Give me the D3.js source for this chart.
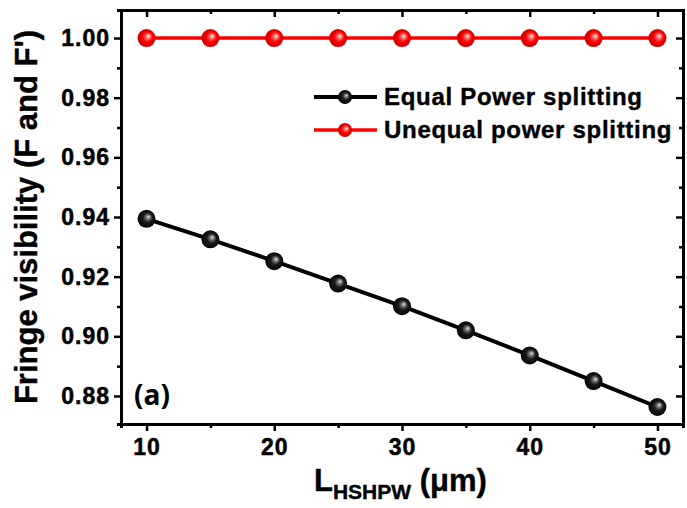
<!DOCTYPE html>
<html>
<head>
<meta charset="utf-8">
<script src="https://cdn.jsdelivr.net/npm/d3@7"></script>
<style>
    body { margin: 0; background: #fff; }
    text { font-family: "Liberation Sans", Arial, sans-serif; font-weight: bold; fill: #000; }
</style>
</head>
<body>
<div id="chart"></div>
<script>
const lengths = [10, 15, 20, 25, 30, 35, 40, 45, 50]
const equalSplit = [0.9394, 0.9325, 0.9252, 0.9177, 0.9101, 0.9020, 0.8936, 0.8850, 0.8763]
const unequalSplit = [1.00, 1.00, 1.00, 1.00, 1.00, 1.00, 1.00, 1.00, 1.00]
const xTicks = [10, 20, 30, 40, 50]
const yTicks = [0.88, 0.90, 0.92, 0.94, 0.96, 0.98, 1.00]
const seriesNames = ['Equal Power splitting', 'Unequal power splitting']

const width = 687
const height = 508
const plotLeft = 121
const plotRight = 683
const plotTop = 10
const plotBottom = 424

const x = d3.scaleLinear().domain([8, 52]).range([plotLeft, plotRight])
const y = d3.scaleLinear().domain([0.8706, 1.0094]).range([plotBottom, plotTop])

const svg = d3.select('#chart')
    .append('svg')
    .attr('width', width)
    .attr('height', height)

// sphere-looking markers
const defs = svg.append('defs')
const makeGrad = (id, stops) => {
    const g = defs.append('radialGradient')
        .attr('id', id)
        .attr('cx', 0.5).attr('cy', 0.5).attr('r', 0.55)
        .attr('fx', 0.62).attr('fy', 0.38)
    stops.forEach((s) => g.append('stop').attr('offset', s[0]).attr('stop-color', s[1]))
}
makeGrad('ball-black', [[0, '#f4f4f4'], [0.16, '#8a8a8a'], [0.48, '#1a1a1a'], [1, '#000']])
makeGrad('ball-red', [[0, '#ffffff'], [0.2, '#ff7a7a'], [0.52, '#ff0000'], [1, '#b80000']])

const series = [
    { name: seriesNames[0], values: equalSplit, color: '#000', grad: 'url(#ball-black)', width: 4 },
    { name: seriesNames[1], values: unequalSplit, color: '#ff0000', grad: 'url(#ball-red)', width: 3.5 }
]

// axes
const fmt = d3.format('.2f')
const minorX = [15, 25, 35, 45]
const minorY = [0.89, 0.91, 0.93, 0.95, 0.97, 0.99]
const styleAxis = (g) => {
    g.select('.domain').attr('stroke-width', 3).attr('stroke', '#000')
    g.selectAll('.tick line').attr('stroke-width', 2.5).attr('stroke', '#000')
    g.selectAll('text')
        .style('font-size', '23px')
        .style('letter-spacing', '1px')
        .attr('stroke', '#000')
        .attr('stroke-width', 0.5)
}
svg.append('g')
    .attr('transform', `translate(0, ${plotBottom})`)
    .call(d3.axisBottom(x).tickValues(minorX).tickSize(4).tickFormat(''))
    .call(styleAxis)
svg.append('g')
    .attr('transform', `translate(0, ${plotBottom})`)
    .call(d3.axisBottom(x).tickValues(xTicks).tickSize(7).tickPadding(8).tickSizeOuter(0))
    .call(styleAxis)
svg.append('g')
    .attr('transform', `translate(${plotLeft}, 0)`)
    .call(d3.axisLeft(y).tickValues(minorY).tickSize(4).tickFormat(''))
    .call(styleAxis)
svg.append('g')
    .attr('transform', `translate(${plotLeft}, 0)`)
    .call(d3.axisLeft(y).tickValues(yTicks).tickSize(7).tickPadding(4).tickFormat(fmt).tickSizeOuter(0))
    .call(styleAxis)
svg.append('g')
    .attr('transform', `translate(0, ${plotTop})`)
    .call(d3.axisTop(x).tickValues(xTicks).tickSize(-7).tickFormat('').tickSizeOuter(0))
    .call(styleAxis)
svg.append('g')
    .attr('transform', `translate(0, ${plotTop})`)
    .call(d3.axisTop(x).tickValues(minorX).tickSize(-4).tickFormat(''))
    .call(styleAxis)
svg.append('g')
    .attr('transform', `translate(${plotRight}, 0)`)
    .call(d3.axisRight(y).tickValues(yTicks).tickSize(-7).tickFormat('').tickSizeOuter(0))
    .call(styleAxis)
svg.append('g')
    .attr('transform', `translate(${plotRight}, 0)`)
    .call(d3.axisRight(y).tickValues(minorY).tickSize(-4).tickFormat(''))
    .call(styleAxis)

// lines and markers
const line = d3.line().x((d, i) => x(lengths[i])).y((d) => y(d))
series.forEach((s) => {
    svg.append('path')
        .datum(s.values)
        .attr('fill', 'none')
        .attr('stroke', s.color)
        .attr('stroke-width', s.width)
        .attr('d', line)
    svg.selectAll(null)
        .data(s.values)
        .enter()
        .append('circle')
        .attr('cx', (d, i) => x(lengths[i]))
        .attr('cy', (d) => y(d))
        .attr('r', 9)
        .attr('fill', s.grad)
})

// legend
const legend = svg.append('g')
series.forEach((s, i) => {
    const ly = 97 + i * 33
    legend.append('line')
        .attr('x1', 314).attr('x2', 377)
        .attr('y1', ly).attr('y2', ly)
        .attr('stroke', s.color)
        .attr('stroke-width', s.width)
    legend.append('circle')
        .attr('cx', 345).attr('cy', ly).attr('r', 7)
        .attr('fill', s.grad)
    legend.append('text')
        .attr('x', 384).attr('y', ly + 8)
        .style('font-size', '24px')
        .style('letter-spacing', '0.7px')
        .attr('stroke', '#000')
        .attr('stroke-width', 0.4)
        .text(s.name)
})

// axis titles
const xTitle = svg.append('text')
    .attr('x', 314).attr('y', 491)
    .style('font-size', '31px')
    .attr('stroke', '#000')
    .attr('stroke-width', 0.4)
xTitle.append('tspan').text('L')
xTitle.append('tspan').attr('dy', 8).style('font-size', '21px').text('HSHPW')
xTitle.append('tspan').attr('dy', -8).text(' (\u03bcm)')

svg.append('text')
    .attr('transform', 'translate(37, 217) rotate(-90)')
    .attr('text-anchor', 'middle')
    .style('font-size', '31px')
    .attr('stroke', '#000')
    .attr('stroke-width', 0.4)
    .text("Fringe visibility (F and F')")

svg.append('text')
    .attr('x', 134).attr('y', 405)
    .style('font-family', '"Open Sans", sans-serif')
    .style('font-size', '28px')
    .text('(a)')
</script>
</body>
</html>
